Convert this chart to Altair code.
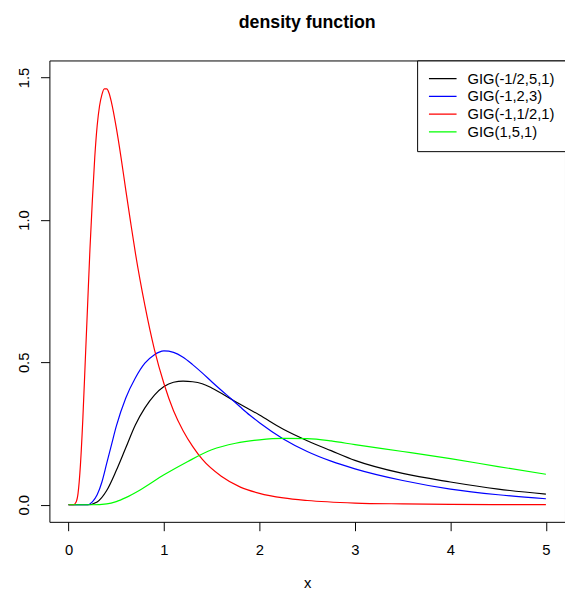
import altair as alt
import pandas as pd

labels = ["GIG(-1/2,5,1)", "GIG(-1,2,3)", "GIG(-1,1/2,1)", "GIG(1,5,1)"]
colors = ["black", "blue", "red", "#00ff00"]

black_x = [0, 0.2, 0.3, 0.4, 0.5, 0.6, 0.7, 0.8, 0.9, 1.0, 1.1, 1.2, 1.3, 1.4, 1.5,
           1.75, 2.0, 2.25, 2.5, 2.75, 3.0, 3.5, 4.0, 4.5, 5.0]
black_y = [0, 0.0, 0.01, 0.05, 0.12, 0.20, 0.28, 0.34, 0.385, 0.415, 0.43, 0.434, 0.432,
           0.425, 0.41, 0.362, 0.315, 0.265, 0.225, 0.19, 0.156, 0.11, 0.08, 0.055, 0.037]

blue_x = [0, 0.2, 0.25, 0.3, 0.35, 0.4, 0.45, 0.5, 0.6, 0.7, 0.8, 0.9, 0.95, 1.0, 1.1, 1.2,
          1.3, 1.4, 1.5, 1.6, 1.7, 1.8, 1.9, 2.0, 2.25, 2.5, 2.75, 3.0, 3.5, 4.0, 4.5, 5.0]
blue_y = [0, 0.0, 0.01, 0.035, 0.08, 0.145, 0.21, 0.275, 0.375, 0.445, 0.497, 0.527, 0.536,
          0.54, 0.535, 0.518, 0.492, 0.463, 0.432, 0.402, 0.373, 0.343, 0.314, 0.288, 0.231,
          0.187, 0.153, 0.126, 0.085, 0.055, 0.035, 0.021]

red_x = [0, 0.05, 0.08, 0.1, 0.125, 0.15, 0.175, 0.2, 0.225, 0.25, 0.275, 0.3, 0.325, 0.35,
         0.375, 0.4, 0.425, 0.45, 0.5, 0.55, 0.6, 0.65, 0.7, 0.8, 0.9, 1.0, 1.1, 1.2, 1.3,
         1.4, 1.6, 1.8, 2.0, 2.25, 2.5, 3.0, 3.5, 4.0, 4.5, 5.0]
red_y = [0, 0.0, 0.01, 0.04, 0.14, 0.30, 0.50, 0.70, 0.90, 1.07, 1.22, 1.33, 1.40, 1.44,
         1.46, 1.46, 1.445, 1.413, 1.325, 1.22, 1.105, 0.993, 0.885, 0.70, 0.545, 0.425,
         0.33, 0.26, 0.205, 0.16, 0.10, 0.062, 0.04, 0.024, 0.015, 0.006, 0.003, 0.0013,
         0.0006, 0.0003]

green_x = [0, 0.25, 0.4, 0.5, 0.6, 0.75, 1.0, 1.25, 1.5, 1.75, 2.0, 2.25, 2.5, 2.75, 3.0,
           3.5, 4.0, 4.5, 5.0]
green_y = [0, 0.0, 0.003, 0.011, 0.025, 0.052, 0.105, 0.152, 0.193, 0.216, 0.228, 0.233,
           0.232, 0.224, 0.211, 0.187, 0.162, 0.134, 0.107]

x_ticks = [0, 1, 2, 3, 4, 5]
y_ticks = [0, 0.5, 1.0, 1.5]

rows = []
for lab, xs, ys in zip(labels, [black_x, blue_x, red_x, green_x],
                       [black_y, blue_y, red_y, green_y]):
    for xv, yv in zip(xs, ys):
        rows.append({"x": xv, "y": yv, "series": lab})
df = pd.DataFrame(rows)

FONT = "Liberation Sans"

chart = alt.Chart(df).mark_line(strokeWidth=1.2, interpolate="monotone").encode(
    x=alt.X("x:Q",
            scale=alt.Scale(domain=[-0.2, 5.2], nice=False, zero=False),
            axis=alt.Axis(values=x_ticks, format="d", title="x", domain=False, grid=False,
                          tickSize=9, tickColor="black", labelPadding=23.7,
                          labelBaseline="alphabetic", titleY=66.7,
                          titleBaseline="alphabetic")),
    y=alt.Y("y:Q",
            scale=alt.Scale(domain=[-0.06, 1.56], nice=False, zero=False),
            axis=alt.Axis(values=y_ticks, format=".1f", title=None, domain=False,
                          grid=False, tickSize=9, tickColor="black", labelAngle=270,
                          labelAlign="center", labelBaseline="alphabetic",
                          labelPadding=12.5)),
    color=alt.Color("series:N",
                    scale=alt.Scale(domain=labels, range=colors),
                    legend=alt.Legend(title=None, orient="none", legendX=373, legendY=0,
                                      strokeColor="black", fillColor="white", padding=11,
                                      cornerRadius=0, symbolType="stroke", symbolSize=784,
                                      symbolStrokeWidth=1.2, labelFont=FONT,
                                      labelFontSize=15, labelColor="black",
                                      labelOffset=10, clipHeight=15, rowPadding=2,
                                      labelLimit=300)),
).properties(
    width=523,
    height=468,
    autosize=alt.AutoSizeParams(type="none"),
    padding={"left": 42, "top": 49, "right": 0, "bottom": 70},
    title=alt.TitleParams("density function", fontSize=18, fontWeight="bold", font=FONT,
                          anchor="middle", offset=14, baseline="alphabetic",
                          color="black"),
).configure_view(
    stroke="black", strokeWidth=1
).configure_axis(
    labelFont=FONT, labelFontSize=15, labelColor="black",
    titleFont=FONT, titleFontSize=15, titleFontWeight="normal", titleColor="black"
)

chart.save("out.html", embed_options={"renderer": "svg", "actions": False})
